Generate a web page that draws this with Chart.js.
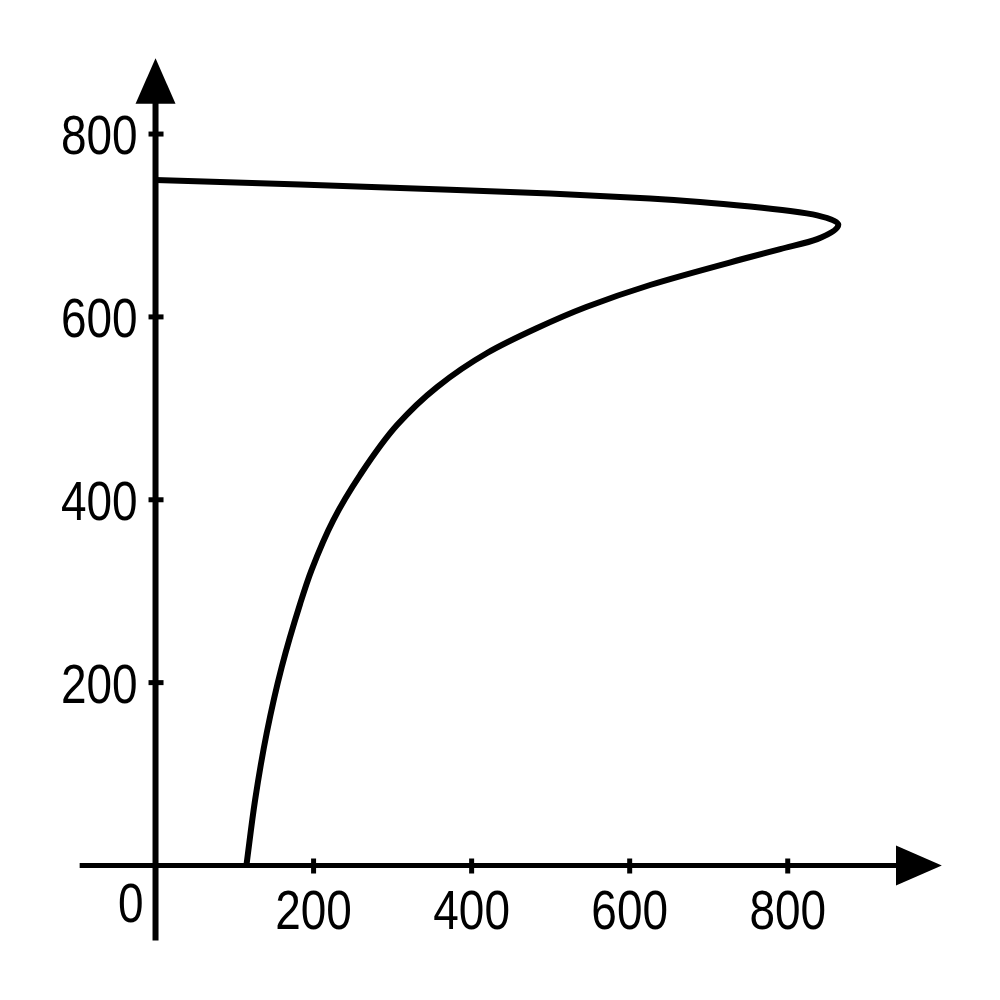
<!DOCTYPE html>
<html>
<head>
<meta charset="utf-8">
<script src="https://cdn.jsdelivr.net/npm/chart.js@4.4.1/dist/chart.umd.min.js"></script>
<style>
  html, body { margin: 0; padding: 0; background: #fff; }
  #wrap { width: 1000px; height: 1000px; }
</style>
</head>
<body>
<div id="wrap"><canvas id="curve" width="1000" height="1000"></canvas></div>
<script>
// curve, bottom end first, round the nose, back to the y axis
// (y rises all the way along, so the curve is x as a function of y)
var curveX = [115, 126, 140.7, 159.7, 182.9, 197.4, 225, 258.8, 305.6, 356.2, 419.5, 481.5, 545, 625.8, 752.5, 790.5, 837.3, 864,
              837.3, 803.2, 752.5, 689, 625.8, 499.2, 372.8, 182.9, 0];
var curveY = [0, 71.7, 144.9, 217.1, 286, 323.1, 377.8, 427, 481.7, 523.3, 560.5, 587.3, 610.8, 634.9, 665.5, 674.2, 685.1, 701,
              711.1, 715.8, 720.7, 725.7, 729.5, 735, 739.2, 744.7, 749.6];

var xTicks = [200, 400, 600, 800];
var yTicks = [200, 400, 600, 800];
var originLabel = "0";

var points = [];
for (var i = 0; i < curveX.length; i++) {
    points.push({x: curveX[i], y: curveY[i]});
}

var LABEL_FONT = "56px 'Liberation Sans', Arial, sans-serif";
var SQUEEZE = 0.82; // the labels in the picture are narrow

function drawLabel(ctx, text, x, y, align) {
    ctx.save();
    ctx.translate(x, y);
    ctx.scale(SQUEEZE, 1);
    ctx.textAlign = align;
    ctx.fillText(text, 0, 0);
    ctx.restore();
}

// axes with arrow heads, crossing ticks and labels, drawn from the chart's scales
var axesPlugin = {
    id: 'arrowAxes',
    beforeDatasetsDraw: function (chart) {
        var ctx = chart.ctx;
        var sx = chart.scales.x;
        var sy = chart.scales.y;
        var x0 = sx.getPixelForValue(0);
        var y0 = sy.getPixelForValue(0);

        ctx.save();
        ctx.fillStyle = '#000';
        ctx.strokeStyle = '#000';
        ctx.lineCap = 'butt';

        // x axis
        var xStart = sx.getPixelForValue(-96);
        var xEnd = sx.getPixelForValue(937);
        var xTip = sx.getPixelForValue(995);
        ctx.lineWidth = 5;
        ctx.beginPath();
        ctx.moveTo(xStart, y0);
        ctx.lineTo(xEnd + 2, y0);
        ctx.stroke();
        ctx.beginPath();
        ctx.moveTo(xEnd, y0 - 20);
        ctx.lineTo(xTip, y0);
        ctx.lineTo(xEnd, y0 + 20);
        ctx.closePath();
        ctx.fill();

        // y axis
        var yStart = sy.getPixelForValue(-82);
        var yEnd = sy.getPixelForValue(833);
        var yTip = sy.getPixelForValue(883);
        ctx.lineWidth = 6;
        ctx.beginPath();
        ctx.moveTo(x0, yStart);
        ctx.lineTo(x0, yEnd - 2);
        ctx.stroke();
        ctx.beginPath();
        ctx.moveTo(x0 - 20, yEnd);
        ctx.lineTo(x0, yTip);
        ctx.lineTo(x0 + 20, yEnd);
        ctx.closePath();
        ctx.fill();

        // tick marks
        ctx.lineWidth = 5;
        xTicks.forEach(function (v) {
            var px = sx.getPixelForValue(v);
            ctx.beginPath();
            ctx.moveTo(px, y0 - 7);
            ctx.lineTo(px, y0 + 8);
            ctx.stroke();
        });
        yTicks.forEach(function (v) {
            var py = sy.getPixelForValue(v);
            ctx.beginPath();
            ctx.moveTo(x0 - 7, py);
            ctx.lineTo(x0 + 8, py);
            ctx.stroke();
        });

        // labels
        ctx.font = LABEL_FONT;
        ctx.textBaseline = 'alphabetic';
        xTicks.forEach(function (v) {
            drawLabel(ctx, String(v), sx.getPixelForValue(v), y0 + 63, 'center');
        });
        yTicks.forEach(function (v) {
            drawLabel(ctx, String(v), x0 - 18, sy.getPixelForValue(v) + 20, 'right');
        });
        drawLabel(ctx, originLabel, x0 - 12, y0 + 56, 'right');

        ctx.restore();
    }
};

var chart = new Chart(document.getElementById('curve').getContext('2d'), {
    type: 'line',
    data: {
        datasets: [{
            data: points,
            borderColor: '#000',
            borderWidth: 6,
            pointRadius: 0,
            cubicInterpolationMode: 'monotone',
            fill: false
        }]
    },
    options: {
        indexAxis: 'y',
        responsive: false,
        animation: false,
        layout: { padding: 0 },
        plugins: {
            legend: { display: false },
            tooltip: { enabled: false }
        },
        scales: {
            x: { type: 'linear', display: false, min: -196.8, max: 1068.6 },
            y: { type: 'linear', display: false, min: -147.1, max: 946.6 }
        }
    },
    plugins: [axesPlugin]
});
</script>
</body>
</html>
